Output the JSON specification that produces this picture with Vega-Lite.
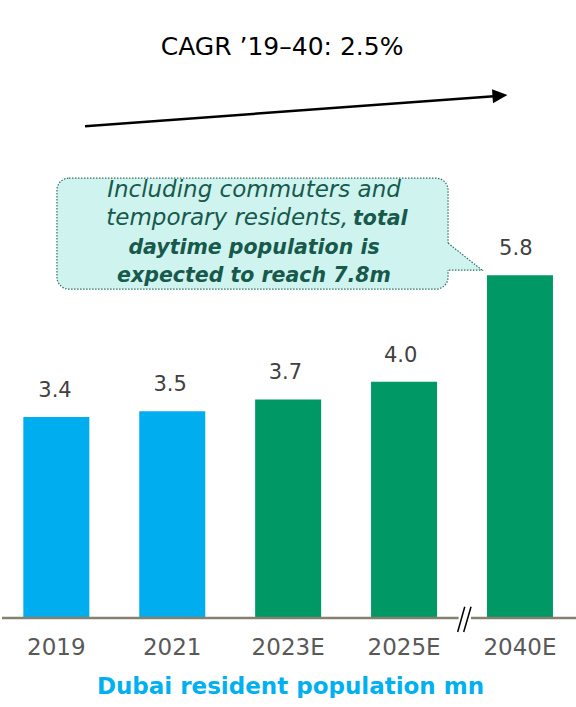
{
  "$schema": "https://vega.github.io/schema/vega-lite/v6.json",
  "width": 576,
  "height": 618,
  "padding": 0,
  "autosize": {"type": "pad"},
  "config": {"view": {"stroke": null}, "font": "DejaVu Sans"},
  "datasets": {
    "bars": [
      {"year": "2019", "value": 3.4, "kind": "Actual"},
      {"year": "2021", "value": 3.5, "kind": "Actual"},
      {"year": "2023E", "value": 3.7, "kind": "Estimate"},
      {"year": "2025E", "value": 4.0, "kind": "Estimate"},
      {"year": "2040E", "value": 5.8, "kind": "Estimate"}
    ],
    "baseline": [
      {"pos": -0.469, "pos2": 3.47, "v": 0, "v2": 0},
      {"pos": 3.577, "pos2": 4.5, "v": 0, "v2": 0}
    ],
    "breakmarks": [
      {"pos": 3.462, "pos2": 3.523, "v": -0.237, "v2": 0.19},
      {"pos": 3.514, "pos2": 3.577, "v": -0.237, "v2": 0.19}
    ],
    "arrow": [{"pos": 0.247, "pos2": 3.775, "v": 8.325, "v2": 8.83}],
    "arrowhead": [{"pos": 3.827, "v": 8.841}],
    "cagr": [{"pos": 1.947, "v": 9.66, "label": "CAGR ’19–40: 2.5%"}],
    "callout": [{"pos": 0.005, "pos2": 3.379, "v": 7.445, "v2": 5.567}],
    "pointer": [
      {"pos": 3.35, "v": 6.345, "v2": 5.888},
      {"pos": 3.379, "v": 6.345, "v2": 5.888},
      {"pos": 3.672, "v": 5.888, "v2": 5.888}
    ],
    "pointerEdge": [
      {"i": 1, "pos": 3.379, "v": 6.345},
      {"i": 2, "pos": 3.672, "v": 5.888},
      {"i": 3, "pos": 3.382, "v": 5.888}
    ],
    "noteCenterRegular": [{"pos": 1.705, "v": 7.124, "line": "Including commuters and"}],
    "noteRightRegular": [{"pos": 2.516, "v": 6.65, "line": "temporary residents,"}],
    "noteLeftBold": [{"pos": 2.559, "v": 6.65, "line": "total"}],
    "noteCenterBold": [
      {"pos": 1.705, "v": 6.159, "line": "daytime population is"},
      {"pos": 1.705, "v": 5.685, "line": "expected to reach 7.8m"}
    ]
  },
  "resolve": {"scale": {"x": "independent"}},
  "layer": [
    {
      "data": {"name": "callout"},
      "mark": {"type": "rect", "fill": "#CFF3EF", "stroke": "#2F6F63", "strokeWidth": 1.2, "strokeDash": [1.5, 1.5], "cornerRadius": 12},
      "encoding": {
        "x": {"field": "pos", "type": "quantitative", "scale": {"domain": [-0.469, 4.5], "nice": false, "zero": false}, "axis": null},
        "x2": {"field": "pos2"},
        "y": {"field": "v", "type": "quantitative", "scale": {"domain": [0, 10.46], "nice": false, "zero": false}, "axis": null},
        "y2": {"field": "v2"}
      }
    },
    {
      "data": {"name": "pointer"},
      "mark": {"type": "area", "fill": "#CFF3EF", "stroke": null},
      "encoding": {
        "x": {"field": "pos", "type": "quantitative", "scale": {"domain": [-0.469, 4.5], "nice": false, "zero": false}, "axis": null},
        "y": {"field": "v", "type": "quantitative", "scale": {"domain": [0, 10.46], "nice": false, "zero": false}, "axis": null},
        "y2": {"field": "v2"}
      }
    },
    {
      "data": {"name": "pointerEdge"},
      "mark": {"type": "line", "stroke": "#2F6F63", "strokeWidth": 1.2, "strokeDash": [1.5, 1.5]},
      "encoding": {
        "x": {"field": "pos", "type": "quantitative", "scale": {"domain": [-0.469, 4.5], "nice": false, "zero": false}, "axis": null},
        "y": {"field": "v", "type": "quantitative", "scale": {"domain": [0, 10.46], "nice": false, "zero": false}, "axis": null},
        "order": {"field": "i", "type": "quantitative"}
      }
    },
    {
      "data": {"name": "noteCenterRegular"},
      "mark": {"type": "text", "fontSize": 23, "fontStyle": "italic", "color": "#17594B", "align": "center", "baseline": "alphabetic"},
      "encoding": {
        "x": {"field": "pos", "type": "quantitative", "scale": {"domain": [-0.469, 4.5], "nice": false, "zero": false}, "axis": null},
        "y": {"field": "v", "type": "quantitative", "scale": {"domain": [0, 10.46], "nice": false, "zero": false}, "axis": null},
        "text": {"field": "line"}
      }
    },
    {
      "data": {"name": "noteRightRegular"},
      "mark": {"type": "text", "fontSize": 23, "fontStyle": "italic", "color": "#17594B", "align": "right", "baseline": "alphabetic"},
      "encoding": {
        "x": {"field": "pos", "type": "quantitative", "scale": {"domain": [-0.469, 4.5], "nice": false, "zero": false}, "axis": null},
        "y": {"field": "v", "type": "quantitative", "scale": {"domain": [0, 10.46], "nice": false, "zero": false}, "axis": null},
        "text": {"field": "line"}
      }
    },
    {
      "data": {"name": "noteLeftBold"},
      "mark": {"type": "text", "fontSize": 20.5, "fontStyle": "italic", "fontWeight": "bold", "color": "#17594B", "align": "left", "baseline": "alphabetic"},
      "encoding": {
        "x": {"field": "pos", "type": "quantitative", "scale": {"domain": [-0.469, 4.5], "nice": false, "zero": false}, "axis": null},
        "y": {"field": "v", "type": "quantitative", "scale": {"domain": [0, 10.46], "nice": false, "zero": false}, "axis": null},
        "text": {"field": "line"}
      }
    },
    {
      "data": {"name": "noteCenterBold"},
      "mark": {"type": "text", "fontSize": 20.5, "fontStyle": "italic", "fontWeight": "bold", "color": "#17594B", "align": "center", "baseline": "alphabetic"},
      "encoding": {
        "x": {"field": "pos", "type": "quantitative", "scale": {"domain": [-0.469, 4.5], "nice": false, "zero": false}, "axis": null},
        "y": {"field": "v", "type": "quantitative", "scale": {"domain": [0, 10.46], "nice": false, "zero": false}, "axis": null},
        "text": {"field": "line"}
      }
    },
    {
      "data": {"name": "bars"},
      "mark": {"type": "bar"},
      "encoding": {
        "x": {
          "field": "year", "type": "nominal", "sort": null,
          "scale": {"paddingInner": 0.4305, "paddingOuter": 0.2, "align": 0.46},
          "axis": {
            "title": "Dubai resident population mn",
            "titleColor": "#00B0F0", "titleFontSize": 23, "titleFontWeight": "bold", "titlePadding": 16,
            "labelFontSize": 23, "labelColor": "#595959", "labelPadding": 18, "labelAngle": 0,
            "domain": false, "ticks": false, "tickSize": 0
          }
        },
        "y": {"field": "value", "type": "quantitative", "scale": {"domain": [0, 10.46], "nice": false, "zero": false}, "axis": null},
        "color": {"field": "kind", "type": "nominal", "scale": {"domain": ["Actual", "Estimate"], "range": ["#00AEEF", "#009966"]}, "legend": null}
      }
    },
    {
      "data": {"name": "bars"},
      "mark": {"type": "text", "fontSize": 21, "color": "#404040", "align": "center", "baseline": "alphabetic", "dy": -20},
      "encoding": {
        "x": {"field": "year", "type": "nominal", "sort": null, "scale": {"paddingInner": 0.4305, "paddingOuter": 0.2, "align": 0.46}, "axis": null},
        "y": {"field": "value", "type": "quantitative", "scale": {"domain": [0, 10.46], "nice": false, "zero": false}, "axis": null},
        "text": {"field": "value", "type": "quantitative", "format": ".1f"}
      }
    },
    {
      "data": {"name": "baseline"},
      "mark": {"type": "rule", "stroke": "#858170", "strokeWidth": 2.5},
      "encoding": {
        "x": {"field": "pos", "type": "quantitative", "scale": {"domain": [-0.469, 4.5], "nice": false, "zero": false}, "axis": null},
        "x2": {"field": "pos2"},
        "y": {"field": "v", "type": "quantitative", "scale": {"domain": [0, 10.46], "nice": false, "zero": false}, "axis": null},
        "y2": {"field": "v2"}
      }
    },
    {
      "data": {"name": "breakmarks"},
      "mark": {"type": "rule", "stroke": "#000000", "strokeWidth": 1.5},
      "encoding": {
        "x": {"field": "pos", "type": "quantitative", "scale": {"domain": [-0.469, 4.5], "nice": false, "zero": false}, "axis": null},
        "x2": {"field": "pos2"},
        "y": {"field": "v", "type": "quantitative", "scale": {"domain": [0, 10.46], "nice": false, "zero": false}, "axis": null},
        "y2": {"field": "v2"}
      }
    },
    {
      "data": {"name": "arrow"},
      "mark": {"type": "rule", "stroke": "#000000", "strokeWidth": 2.5},
      "encoding": {
        "x": {"field": "pos", "type": "quantitative", "scale": {"domain": [-0.469, 4.5], "nice": false, "zero": false}, "axis": null},
        "x2": {"field": "pos2"},
        "y": {"field": "v", "type": "quantitative", "scale": {"domain": [0, 10.46], "nice": false, "zero": false}, "axis": null},
        "y2": {"field": "v2"}
      }
    },
    {
      "data": {"name": "arrowhead"},
      "mark": {"type": "point", "shape": "M -1 -0.93 L 1 0 L -1 0.93 Z", "size": 225, "angle": -4.2, "filled": true, "fill": "#000000", "opacity": 1, "strokeWidth": 0},
      "encoding": {
        "x": {"field": "pos", "type": "quantitative", "scale": {"domain": [-0.469, 4.5], "nice": false, "zero": false}, "axis": null},
        "y": {"field": "v", "type": "quantitative", "scale": {"domain": [0, 10.46], "nice": false, "zero": false}, "axis": null}
      }
    },
    {
      "data": {"name": "cagr"},
      "mark": {"type": "text", "fontSize": 25, "color": "#000000", "align": "center", "baseline": "middle"},
      "encoding": {
        "x": {"field": "pos", "type": "quantitative", "scale": {"domain": [-0.469, 4.5], "nice": false, "zero": false}, "axis": null},
        "y": {"field": "v", "type": "quantitative", "scale": {"domain": [0, 10.46], "nice": false, "zero": false}, "axis": null},
        "text": {"field": "label"}
      }
    }
  ]
}
